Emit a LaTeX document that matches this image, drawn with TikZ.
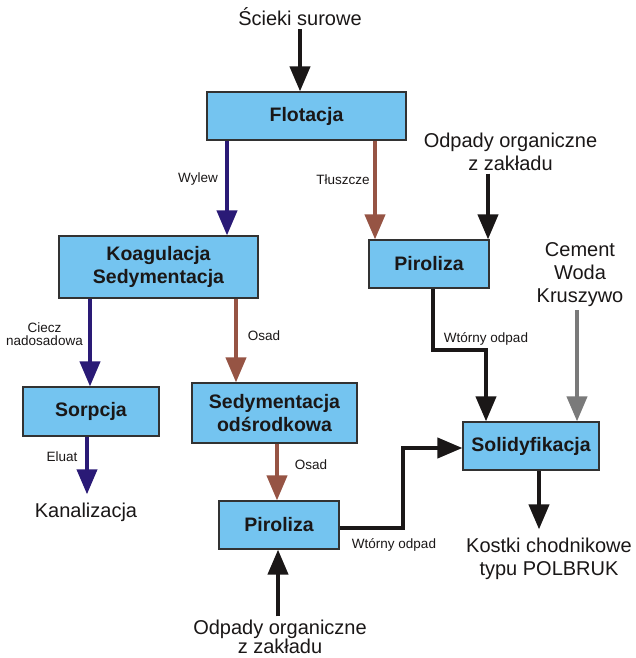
\documentclass[tikz,border=0pt]{standalone}
\usepackage{fontspec}
\setmainfont{Liberation Sans}
\usetikzlibrary{arrows.meta}
\definecolor{boxfill}{RGB}{116,196,240}
\definecolor{boxline}{RGB}{50,50,50}
\definecolor{flowblue}{RGB}{42,26,118}
\definecolor{flowbrown}{RGB}{150,84,68}
\definecolor{flowgrey}{RGB}{122,122,122}
\definecolor{flowblack}{RGB}{26,23,23}
\begin{document}
\begin{tikzpicture}[x=1pt, y=-1pt,
  box/.style={draw=boxline, line width=1.2pt, fill=boxfill, inner sep=0pt,
    font=\fontsize{19.5}{23}\selectfont\bfseries, text=flowblack, align=center},
  big/.style={font=\fontsize{20}{23}\selectfont, text=flowblack, inner sep=3pt, align=center},
  lab/.style={font=\fontsize{13.5}{13}\selectfont, text=flowblack, inner sep=0pt, align=center},
  flow/.style={line width=4pt, -{Triangle[width=20pt,length=25pt]}}]
\fill[white] (0,0) rectangle (635,658);
\useasboundingbox (0,0) rectangle (635,658);

% process boxes
\node[box, minimum width=199, minimum height=48] (flot) at (306.5,116) {Flotacja};
\node[box, minimum width=199, minimum height=62] (koag) at (158.5,267) {Koagulacja\\Sedymentacja};
\node[box, minimum width=120, minimum height=48] (pir2) at (429,264) {Piroliza};
\node[box, minimum width=136, minimum height=49] (sorp) at (91,411.5) {Sorpcja};
\node[box, minimum width=165, minimum height=60] (sed) at (274.5,413) {Sedymentacja\\odśrodkowa};
\node[box, minimum width=120, minimum height=48] (pir1) at (279,525) {Piroliza};
\node[box, minimum width=136, minimum height=48] (solid) at (531,446) {Solidyfikacja};

% inputs / outputs
\node[big, anchor=base] (src) at (300,26) {Ścieki surowe};
\node[big, anchor=north] (odp1) at (510.5,129.5) {Odpady organiczne\\z zakładu};
\node[big, anchor=north] (cem) at (580,239.7) {Cement\\Woda\\Kruszywo};
\node[big, anchor=base] (kan) at (86,517) {Kanalizacja};
\node[big, anchor=north] (kostki) at (549,534.4) {Kostki chodnikowe\\typu POLBRUK};
\node[big, anchor=north, font=\fontsize{20}{18}\selectfont] (odp2) at (280,616.4) {Odpady organiczne\\z zakładu};

% flow labels
\node[lab, anchor=base] (lwyl) at (198,182) {Wylew};
\node[lab, anchor=base] (ltl) at (343,184) {Tłuszcze};
\node[lab, anchor=north] (lcie) at (44.5,322.3) {Ciecz\\nadosadowa};
\node[lab, anchor=base] (los1) at (264,340) {Osad};
\node[lab, anchor=base] (lelu) at (62,461) {Eluat};
\node[lab, anchor=base] (los2) at (311,469) {Osad};
\node[lab, anchor=base] (lwt1) at (394,548) {Wtórny odpad};
\node[lab, anchor=base] (lwt2) at (486,342) {Wtórny odpad};

% x positions of the vertical flows
\coordinate (xw) at (227,0);
\coordinate (xt) at (375,0);
\coordinate (xo) at (488,0);
\coordinate (xc) at (90,0);
\coordinate (xs) at (236,0);
\coordinate (xe) at (87,0);
\coordinate (xl) at (277,0);
\coordinate (xp) at (278,0);
\coordinate (xg) at (577,0);
\coordinate (xk) at (539,0);
\coordinate (c1) at (433,350);
\coordinate (c2) at (486,350);
\coordinate (c3) at (403,528);
\coordinate (c4) at (403,448);

% connectors
\draw[flow, flowblack] (src.south) -- (flot.north -| src.south);
\draw[flow, flowblue] (flot.south -| xw) -- (koag.north -| xw);
\draw[flow, flowbrown] (flot.south -| xt) -- (pir2.north -| xt);
\draw[flow, flowblack] (odp1.south -| xo) -- (pir2.north -| xo);
\draw[flow, flowblue] (koag.south -| xc) -- (sorp.north -| xc);
\draw[flow, flowbrown] (koag.south -| xs) -- (sed.north -| xs);
\draw[flow, flowblue, shorten >=5pt] (sorp.south -| xe) -- (kan.north -| xe);
\draw[flow, flowbrown] (sed.south -| xl) -- (pir1.north -| xl);
\draw[flow, flowblack] (odp2.north -| xp) -- (pir1.south -| xp);
\draw[flow, flowgrey] (cem.south -| xg) -- (solid.north -| xg);
\draw[flow, flowblack, shorten >=5pt] (solid.south -| xk) -- (kostki.north -| xk);
\draw[flow, flowblack] (pir2.south -| c1) -- (c1) -- (c2) -- (solid.north -| c2);
\draw[flow, flowblack] (pir1.east |- c3) -- (c3) -- (c4) -- (solid.west |- c4);
\end{tikzpicture}
\end{document}
